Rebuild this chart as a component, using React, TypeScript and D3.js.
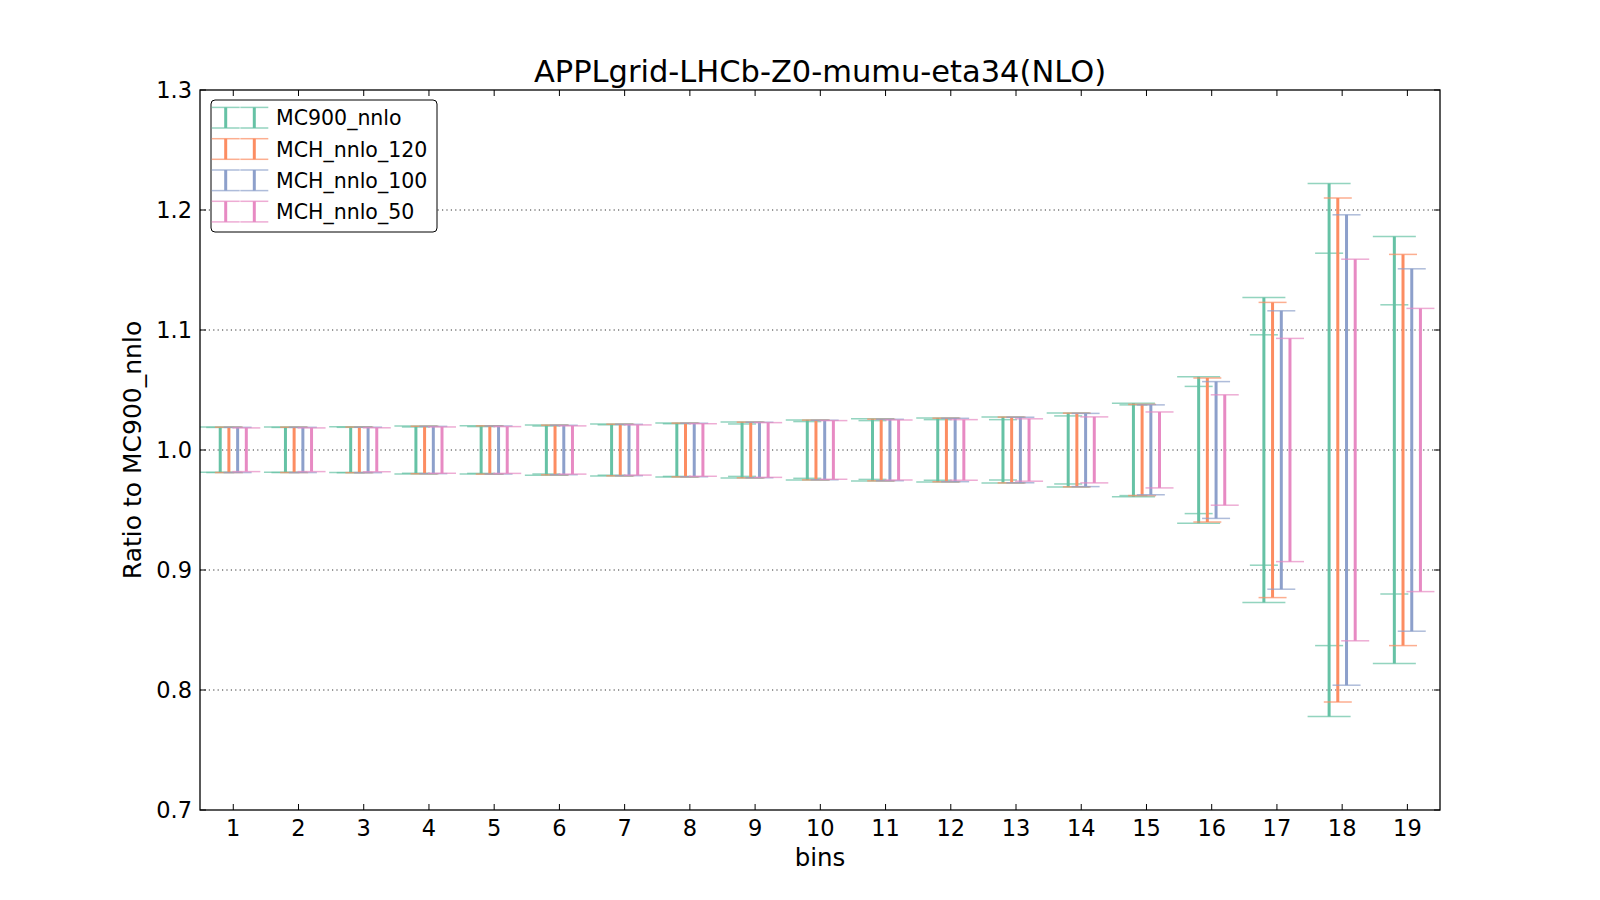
import * as d3 from "d3";
import { useEffect, useRef } from "react";

// bins on the x axis
const bins = [1, 2, 3, 4, 5, 6, 7, 8, 9, 10, 11, 12, 13, 14, 15, 16, 17, 18, 19];

const seriesNames = ["MC900_nnlo", "MCH_nnlo_120", "MCH_nnlo_100", "MCH_nnlo_50"];
const seriesColors = ["#66c2a5", "#fc8d62", "#8da0cb", "#e78ac3"];

// reference set: outer band (wide caps) and inner band (narrow caps)
const mc900High = [1.0192, 1.0192, 1.0193, 1.0200, 1.0203, 1.0209, 1.0217, 1.0226, 1.0234, 1.0251, 1.0260, 1.0267, 1.0276, 1.0309, 1.0390, 1.0610, 1.1270, 1.2220, 1.1780];
const mc900Low = [0.9814, 0.9814, 0.9812, 0.9800, 0.9800, 0.9790, 0.9784, 0.9776, 0.9767, 0.9750, 0.9742, 0.9734, 0.9726, 0.9692, 0.9610, 0.9390, 0.8730, 0.7780, 0.8220];
const mc900InnerHigh = [1.0188, 1.0188, 1.0189, 1.0192, 1.0195, 1.0200, 1.0210, 1.0219, 1.0217, 1.0237, 1.0245, 1.0253, 1.0253, 1.0284, 1.0376, 1.0530, 1.0960, 1.1640, 1.1210];
const mc900InnerLow = [0.9812, 0.9812, 0.9811, 0.9806, 0.9805, 0.9800, 0.9790, 0.9780, 0.9780, 0.9764, 0.9755, 0.9748, 0.9750, 0.9717, 0.9620, 0.9470, 0.9040, 0.8370, 0.8800];

const mch120High = [1.0190, 1.0190, 1.0191, 1.0198, 1.0201, 1.0207, 1.0215, 1.0224, 1.0232, 1.0249, 1.0257, 1.0265, 1.0274, 1.0307, 1.0380, 1.0600, 1.1230, 1.2100, 1.1630];
const mch120Low = [0.9812, 0.9812, 0.9811, 0.9802, 0.9799, 0.9793, 0.9785, 0.9776, 0.9768, 0.9751, 0.9743, 0.9735, 0.9726, 0.9693, 0.9620, 0.9400, 0.8770, 0.7900, 0.8370];

const mch100High = [1.0189, 1.0189, 1.0190, 1.0197, 1.0200, 1.0206, 1.0214, 1.0223, 1.0231, 1.0248, 1.0256, 1.0264, 1.0273, 1.0305, 1.0376, 1.0570, 1.1160, 1.1960, 1.1510];
const mch100Low = [0.9812, 0.9812, 0.9811, 0.9803, 0.9800, 0.9794, 0.9786, 0.9777, 0.9769, 0.9752, 0.9744, 0.9736, 0.9727, 0.9695, 0.9627, 0.9430, 0.8840, 0.8040, 0.8490];

const mch50High = [1.0184, 1.0184, 1.0185, 1.0192, 1.0195, 1.0201, 1.0209, 1.0219, 1.0228, 1.0245, 1.0250, 1.0253, 1.0260, 1.0276, 1.0317, 1.0460, 1.0930, 1.1590, 1.1180];
const mch50Low = [0.9820, 0.9820, 0.9819, 0.9806, 0.9805, 0.9799, 0.9791, 0.9781, 0.9772, 0.9756, 0.9750, 0.9748, 0.9740, 0.9726, 0.9684, 0.9540, 0.9070, 0.8410, 0.8820];

const yTicks = [0.7, 0.8, 0.9, 1.0, 1.1, 1.2, 1.3];
const xOffsets = [-0.2, -0.067, 0.067, 0.2];

const App = () => {
  const chartRef = useRef<SVGSVGElement | null>(null);

  const width = 1600;
  const height = 900;
  const margin = { top: 90, bottom: 90, left: 200, right: 160 };

  useEffect(() => {
    const svg = d3.select(chartRef.current);
    svg.selectAll("*").remove();

    const font = "'DejaVu Sans', sans-serif";
    const x0 = margin.left;
    const x1 = width - margin.right;
    const y0 = margin.top;
    const y1 = height - margin.bottom;

    const scaleX = d3.scaleLinear().domain([0.49, 19.5]).range([x0, x1]);
    const scaleY = d3.scaleLinear().domain([0.7, 1.3]).range([y1, y0]);

    svg.append("rect").attr("width", width).attr("height", height).style("fill", "white");

    // grid
    svg
      .append("g")
      .selectAll("line")
      .data(yTicks.slice(1, -1))
      .enter()
      .append("line")
      .attr("x1", x0)
      .attr("x2", x1)
      .attr("y1", d => scaleY(d))
      .attr("y2", d => scaleY(d))
      .style("stroke", "#333")
      .style("stroke-width", 1)
      .style("stroke-dasharray", "1.2,3.2");

    svg
      .append("defs")
      .append("clipPath")
      .attr("id", "plotclip")
      .append("rect")
      .attr("x", x0)
      .attr("y", y0)
      .attr("width", x1 - x0)
      .attr("height", y1 - y0);

    const plot = svg.append("g").attr("clip-path", "url(#plotclip)");

    const series = [
      { high: mc900High, low: mc900Low },
      { high: mch120High, low: mch120Low },
      { high: mch100High, low: mch100Low },
      { high: mch50High, low: mch50Low }
    ];

    const capLine = (g: any, cx: number, y: number, half: number, color: string) => {
      g.append("line")
        .attr("x1", cx - half)
        .attr("x2", cx + half)
        .attr("y1", y)
        .attr("y2", y)
        .style("stroke", color)
        .style("stroke-width", 1.5)
        .style("opacity", 0.7);
    };

    series.forEach((s, i) => {
      const color = seriesColors[i];
      const g = plot.append("g");
      bins.forEach((b, j) => {
        const cx = scaleX(b + xOffsets[i]);
        g.append("line")
          .attr("x1", cx)
          .attr("x2", cx)
          .attr("y1", scaleY(s.high[j]))
          .attr("y2", scaleY(s.low[j]))
          .style("stroke", color)
          .style("stroke-width", 3);
        if (i === 0) {
          capLine(g, cx, scaleY(s.high[j]), 21.5, color);
          capLine(g, cx, scaleY(s.low[j]), 21.5, color);
          capLine(g, cx, scaleY(mc900InnerHigh[j]), 14, color);
          capLine(g, cx, scaleY(mc900InnerLow[j]), 14, color);
        } else {
          capLine(g, cx, scaleY(s.high[j]), 14, color);
          capLine(g, cx, scaleY(s.low[j]), 14, color);
        }
      });
    });

    // frame
    svg
      .append("rect")
      .attr("x", x0)
      .attr("y", y0)
      .attr("width", x1 - x0)
      .attr("height", y1 - y0)
      .style("fill", "none")
      .style("stroke", "black")
      .style("stroke-width", 1.3);

    // ticks (inward, all four sides)
    const tickLen = 6;
    const ticks = svg.append("g").style("stroke", "black").style("stroke-width", 1);
    bins.forEach(b => {
      const x = scaleX(b);
      ticks.append("line").attr("x1", x).attr("x2", x).attr("y1", y1).attr("y2", y1 - tickLen);
      ticks.append("line").attr("x1", x).attr("x2", x).attr("y1", y0).attr("y2", y0 + tickLen);
    });
    yTicks.forEach(t => {
      const y = scaleY(t);
      ticks.append("line").attr("x1", x0).attr("x2", x0 + tickLen).attr("y1", y).attr("y2", y);
      ticks.append("line").attr("x1", x1).attr("x2", x1 - tickLen).attr("y1", y).attr("y2", y);
    });

    svg
      .append("g")
      .selectAll("text")
      .data(bins)
      .enter()
      .append("text")
      .attr("x", d => scaleX(d))
      .attr("y", y1 + 26)
      .attr("text-anchor", "middle")
      .style("font-family", font)
      .style("font-size", "22.5px")
      .text(d => String(d));

    svg
      .append("g")
      .selectAll("text")
      .data(yTicks)
      .enter()
      .append("text")
      .attr("x", x0 - 8)
      .attr("y", d => scaleY(d) + 8)
      .attr("text-anchor", "end")
      .style("font-family", font)
      .style("font-size", "22.5px")
      .text(d => d3.format(".1f")(d));

    svg
      .append("text")
      .attr("x", (x0 + x1) / 2)
      .attr("y", 82)
      .attr("text-anchor", "middle")
      .style("font-family", font)
      .style("font-size", "30.5px")
      .text("APPLgrid-LHCb-Z0-mumu-eta34(NLO)");

    svg
      .append("text")
      .attr("x", (x0 + x1) / 2)
      .attr("y", 866)
      .attr("text-anchor", "middle")
      .style("font-family", font)
      .style("font-size", "24.5px")
      .text("bins");

    svg
      .append("text")
      .attr("transform", `translate(141, ${(y0 + y1) / 2}) rotate(-90)`)
      .attr("text-anchor", "middle")
      .style("font-family", font)
      .style("font-size", "25px")
      .text("Ratio to MC900_nnlo");

    // legend
    const legend = svg.append("g");
    legend
      .append("rect")
      .attr("x", 211)
      .attr("y", 100)
      .attr("width", 226)
      .attr("height", 132)
      .attr("rx", 4)
      .style("fill", "white")
      .style("stroke", "black")
      .style("stroke-width", 1);

    seriesNames.forEach((name, i) => {
      const cy = 117.7 + i * 31.3;
      const color = seriesColors[i];
      [225.7, 254.3].forEach(hx => {
        legend
          .append("line")
          .attr("x1", hx)
          .attr("x2", hx)
          .attr("y1", cy - 10.3)
          .attr("y2", cy + 10.3)
          .style("stroke", color)
          .style("stroke-width", 3);
        capLine(legend, hx, cy - 10.3, 14, color);
        capLine(legend, hx, cy + 10.3, 14, color);
      });
      legend
        .append("text")
        .attr("x", 276)
        .attr("y", cy + 7.5)
        .style("font-family", font)
        .style("font-size", "20.5px")
        .text(name);
    });
  }, []);

  return (
    <svg
      ref={chartRef}
      width={width}
      height={height}
      style={{ position: "absolute", left: 0, top: 0, display: "block" }}
    ></svg>
  );
};

export default App;
